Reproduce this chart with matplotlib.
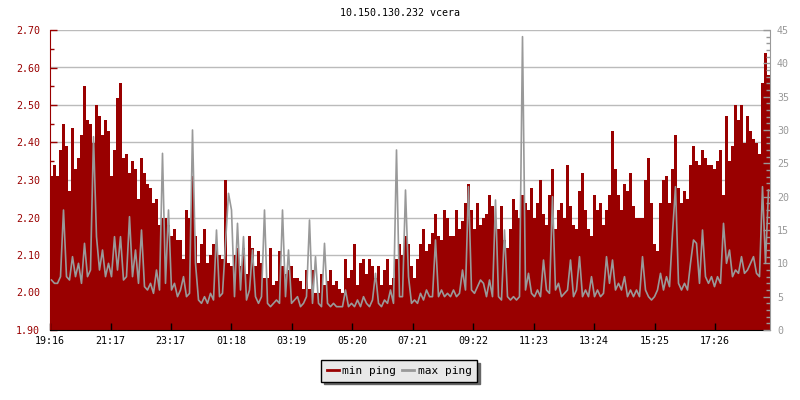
import numpy as np
import matplotlib.pyplot as plt
from matplotlib.ticker import MultipleLocator, FormatStrFormatter
from matplotlib.lines import Line2D

title = '10.150.130.232 vcera'
start_time = '19:16'
step_min = 6
tick_labels = ['19:16', '21:17', '23:17', '01:18', '03:19', '05:20',
               '07:21', '09:22', '11:23', '13:24', '15:25', '17:26']

# min ping (left axis), one value per 6 minutes
min_ping = [
    2.31, 2.34, 2.31, 2.38, 2.45, 2.39, 2.27, 2.44, 2.33, 2.36, 2.42, 2.55, 2.46, 2.45, 2.40, 2.50,
    2.47, 2.42, 2.46, 2.43, 2.31, 2.38, 2.52, 2.56, 2.36, 2.37, 2.32, 2.35, 2.33, 2.25, 2.36, 2.32,
    2.29, 2.28, 2.24, 2.25, 2.18, 2.20, 2.20, 2.18, 2.15, 2.17, 2.14, 2.14, 2.09, 2.22, 2.20, 2.31,
    2.15, 2.08, 2.13, 2.17, 2.08, 2.10, 2.13, 2.12, 2.10, 2.09, 2.30, 2.08, 2.07, 2.10, 2.12, 2.07,
    2.12, 2.05, 2.15, 2.12, 2.07, 2.11, 2.08, 2.04, 2.04, 2.12, 2.02, 2.03, 2.11, 2.07, 2.05, 2.06,
    2.07, 2.04, 2.04, 2.03, 2.01, 2.06, 2.01, 2.06, 2.00, 2.00, 2.05, 2.02, 2.03, 2.06, 2.02, 2.03,
    2.01, 2.00, 2.09, 2.04, 2.06, 2.13, 2.02, 2.08, 2.09, 2.05, 2.09, 2.07, 2.04, 2.07, 2.02, 2.06,
    2.09, 2.02, 2.04, 2.09, 2.13, 2.10, 2.15, 2.13, 2.07, 2.04, 2.09, 2.13, 2.17, 2.11, 2.13, 2.16,
    2.21, 2.15, 2.14, 2.22, 2.20, 2.15, 2.15, 2.22, 2.17, 2.19, 2.24, 2.29, 2.22, 2.17, 2.24, 2.18,
    2.20, 2.21, 2.26, 2.23, 2.18, 2.17, 2.23, 2.14, 2.12, 2.17, 2.25, 2.22, 2.20, 2.26, 2.24, 2.22,
    2.28, 2.20, 2.24, 2.30, 2.21, 2.18, 2.26, 2.33, 2.17, 2.22, 2.24, 2.20, 2.34, 2.23, 2.18, 2.17,
    2.27, 2.32, 2.22, 2.17, 2.15, 2.26, 2.22, 2.24, 2.18, 2.22, 2.26, 2.43, 2.33, 2.26, 2.22, 2.29,
    2.27, 2.32, 2.23, 2.20, 2.20, 2.20, 2.30, 2.36, 2.24, 2.13, 2.11, 2.24, 2.30, 2.31, 2.24, 2.33,
    2.42, 2.28, 2.24, 2.27, 2.25, 2.34, 2.39, 2.35, 2.34, 2.38, 2.36, 2.34, 2.34, 2.33, 2.35, 2.38,
    2.26, 2.47, 2.35, 2.39, 2.50, 2.46, 2.50, 2.40, 2.47, 2.43, 2.41, 2.40, 2.37, 2.56, 2.64, 2.58,
]

# max ping (right axis)
max_ping = [
    7.5, 7, 7, 8, 18, 8, 7.5, 11, 8, 10, 7, 13, 8, 9, 29, 14,
    9, 12, 8, 10, 8, 14, 9, 14, 7.5, 8, 17, 8, 12, 7, 15, 6.5,
    6, 7, 5.5, 9, 6, 26.5, 7, 18, 6, 7, 5, 6, 8, 5, 5.5, 30,
    10, 4.5, 4, 5, 4, 5.5, 4.5, 15, 5, 5.5, 13, 20.5, 18, 5, 16, 6,
    14, 4.5, 6, 12, 5, 4, 5, 18, 4, 3.5, 4, 4.5, 4, 18, 5, 12,
    4, 4.5, 5, 3.5, 4, 5, 16.5, 4, 11, 4, 3.5, 13, 4, 3.5, 4, 3.5,
    3.5, 3.5, 6, 3.5, 4, 3.5, 4.5, 3.5, 5, 4, 3.5, 4.5, 8.5, 4, 3.5, 4.5,
    4, 6, 4, 27, 5, 5, 21, 8, 4, 4.5, 4, 5.5, 4.5, 6, 5, 5,
    13.5, 5, 6, 5, 5.5, 5, 6, 5, 5.5, 9, 6, 21.5, 6, 5.5, 6.5, 7.5,
    7, 5, 7.5, 5, 19.5, 5, 4.5, 15, 5, 4.5, 5, 4.5, 5, 44, 6, 8.5,
    5.5, 5, 6, 5, 10.5, 6, 5.5, 20, 6, 7, 5, 5.5, 6, 10.5, 5, 6,
    11, 5, 6, 5, 8, 5, 6, 5, 5.5, 11, 7, 10.5, 6, 7, 6, 8,
    5, 6, 5, 6, 5, 11, 6, 5, 4.5, 5, 6, 8.5, 6, 8, 6.5, 14.5,
    21.5, 7, 6, 7, 6, 10, 13.5, 13, 7, 15, 8, 7, 8, 6.5, 8, 7,
    16, 10, 12, 8, 9, 8.5, 11, 8.5, 9, 10, 11, 8.5, 8, 21.5, 10, 21,
]

RED = '#990000'
GRAY = '#999999'

plt.rcParams['font.family'] = 'DejaVu Sans Mono'
plt.rcParams['font.size'] = 7.2


def minutes_from_start(label):
    h, m = map(int, label.split(':'))
    h0, m0 = map(int, start_time.split(':'))
    return ((h * 60 + m) - (h0 * 60 + m0)) % 1440


fig = plt.figure(figsize=(8, 4), dpi=100)
ax = fig.add_axes([0.0625, 0.175, 0.9, 0.75])

edges = np.arange(len(min_ping) + 1) * step_min
mids = edges[:-1] + step_min / 2
ax.stairs(min_ping, edges, baseline=1.9, fill=True, color=RED, lw=0)

for y in np.arange(2.0, 2.71, 0.1):
    ax.axhline(y, color='#bbbbbb', lw=1, zorder=0)

ax.set_xlim(0, edges[-1])
ax.set_ylim(1.9, 2.7)
ax.yaxis.set_major_locator(MultipleLocator(0.1))
ax.yaxis.set_minor_locator(MultipleLocator(0.05))
ax.yaxis.set_major_formatter(FormatStrFormatter('%.2f'))
ax.tick_params(axis='y', which='major', direction='in', length=5, width=1,
               colors=RED, pad=7)
ax.tick_params(axis='y', which='minor', direction='in', length=3, width=1, colors=RED)

ax.set_xticks([minutes_from_start(t) for t in tick_labels])
ax.set_xticklabels(tick_labels)
ax.tick_params(axis='x', direction='in', length=5, width=1, colors='black', pad=4)

ax.spines['left'].set_color(RED)
ax.spines['top'].set_visible(False)
ax.spines['right'].set_visible(False)
ax.spines['bottom'].set_color('black')

ax2 = ax.twinx()
ax2.plot(mids, max_ping, color=GRAY, lw=1.2)
ax2.set_ylim(0, 45)
ax2.yaxis.set_major_locator(MultipleLocator(5))
ax2.yaxis.set_minor_locator(MultipleLocator(1))
ax2.tick_params(axis='y', which='major', direction='in', length=5, width=1,
                colors=GRAY, pad=5)
ax2.tick_params(axis='y', which='minor', direction='in', length=3, width=1, colors=GRAY)
for s in ['left', 'top', 'bottom']:
    ax2.spines[s].set_visible(False)
ax2.spines['right'].set_color(GRAY)

fig.text(0.5, 1 - 13 / 400, title, ha='center', va='center', color='black')

handles = [Line2D([], [], color=RED, lw=2), Line2D([], [], color=GRAY, lw=2)]
leg = fig.legend(handles, ['min ping', 'max ping'], loc='center',
                 bbox_to_anchor=(0.499, 1 - 371 / 400), ncol=2, fancybox=False,
                 edgecolor='black', facecolor='#e8e8e8', framealpha=1,
                 shadow={'color': '#666666', 'alpha': 1},
                 handlelength=1.1, handletextpad=0.3, columnspacing=0.5,
                 borderpad=0.5, fontsize=8)
leg.get_frame().set_linewidth(1)

fig.savefig('out.png', dpi=100)
